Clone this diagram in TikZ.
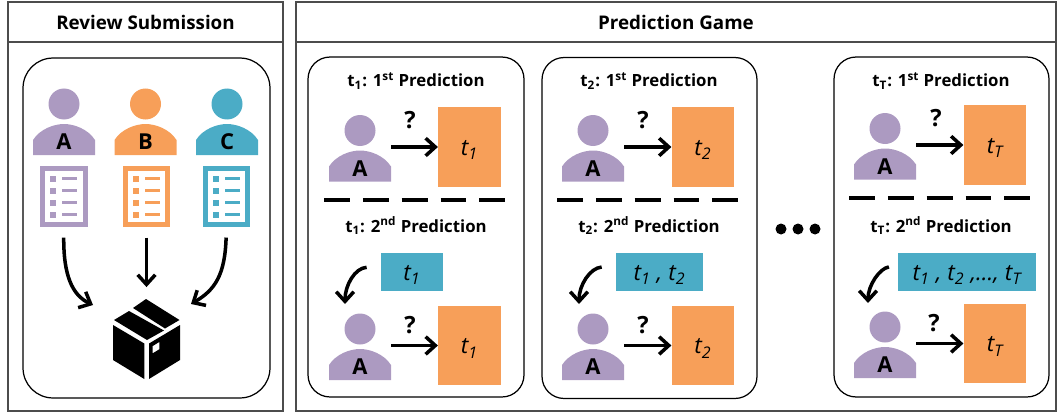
\documentclass[tikz,border=0pt]{standalone}
\usepackage{xcolor}
\usepackage{fontspec}
\usepackage{tikz}
\usetikzlibrary{arrows.meta}
\setmainfont{Open Sans}
\definecolor{revpurple}{HTML}{AC9AC1}
\definecolor{revorange}{HTML}{F79F59}
\definecolor{revblue}{HTML}{4BACC6}
\tikzset{>={Straight Barb[length=5.5pt,width=10pt]}}
\tikzset{arr/.style={->, line width=2pt, black}}
\tikzset{panel/.style={rectangle, draw=black!70, line width=0.7pt, inner sep=0}}
\tikzset{card/.style={rectangle, draw=black, line width=0.7pt, inner sep=0}}
\tikzset{predbox/.style={rectangle, fill=revorange, minimum width=1.25cm, minimum height=1.59cm, inner sep=0, text height=12pt, font=\fontsize{13}{15}\selectfont\itshape}}
\tikzset{histbox/.style={rectangle, fill=revblue, minimum height=0.76cm, inner sep=0, text height=12pt, font=\fontsize{13}{15}\selectfont\itshape}}
\tikzset{cardtitle/.style={inner sep=0, font=\fontsize{9.55}{11}\selectfont\bfseries}}
\tikzset{qmark/.style={inner sep=0, font=\fontsize{13.5}{15}\selectfont\bfseries}}
\tikzset{sep/.style={line width=2pt, dash pattern=on 14.74pt off 7.37pt}}
\tikzset{dotnode/.style={circle, fill=black, minimum size=0.22cm, inner sep=0}}
\tikzset{pics/person/.style 2 args={code={
  \fill [#1] (0,0) circle [radius=15.5];
  \fill [#1] (-31,51) -- (-31,36) .. controls (-24,25) and (-10,20) .. (0,20) .. controls (10,20) and (24,25) .. (31,36) -- (31,51) -- cycle;
  \node [inner sep=0, font=\fontsize{12.5}{14}\selectfont\bfseries] (-l) at (0,38) {#2};
  \node [minimum width=1.24cm, minimum height=1.33cm, inner sep=0, outer sep=0] (-p) at (0,16.5) {};
}}}
\tikzset{pics/review/.style={code={
  \node [draw=#1, line width=2.7pt, minimum width=0.854cm, minimum height=1.114cm, inner sep=0, outer sep=0] (-d) at (0,0) {};
  \foreach \y in {-18,-6,6,18} {
    \fill [#1] (-14,\y-3) rectangle (-8,\y+3);
    \fill [#1] (-1.8,\y-1.4) rectangle (13.5,\y+1.4);
  }
}}}
\newcommand{\tsub}[1]{t\textsubscript{#1}}

\begin{document}
\begin{tikzpicture}[x=0.02cm, y=-0.02cm]
\useasboundingbox (0,0) rectangle (1057,412);
% left side
\node [panel, font=\fontsize{10.7}{13}\selectfont\bfseries, minimum width=5.5cm, minimum height=0.8cm] (H1) at (145.5,22) {Review Submission};
\node [panel, minimum width=5.5cm, minimum height=7.38cm] (W1) at (145.5,226.5) {};
\node [card, rounded corners=0.6cm, minimum width=4.94cm, minimum height=6.8cm] (C0) at (146.5,228) {};
\pic (PA) at (64,104) {person={revpurple}{A}};
\pic (PB) at (145.5,104) {person={revorange}{B}};
\pic (PC) at (227,104) {person={revblue}{C}};
\pic (DA) at (63.8,196.7) {review=revpurple};
\pic (DB) at (146.5,196.7) {review=revorange};
\pic (DC) at (226.5,196.7) {review=revblue};
\node [minimum width=1.34cm, minimum height=1.6cm, inner sep=0, outer sep=0] (BX) at (146.5,339) {};
\fill (114,320) -- (129,311) -- (164,330.5) -- (147,340) -- cycle;
\fill (133,308) -- (146,299) -- (179.5,320) -- (165,328.5) -- cycle;
\fill (113,325) -- (144.3,343.5) -- (144.3,379) -- (113,360) -- cycle;
\fill [even odd rule] (149,343.5) -- (180,325) -- (180,360) -- (149,379) -- cycle (152.7,346) -- (159.3,342) -- (159.3,349.3) -- (152.7,353.3) -- cycle;
\coordinate (ENDA) at (93,305);
\coordinate (ENDC) at (191,304);
\draw [arr, shorten <=7.4pt] (DA-d.south) .. controls (63.5,275) and (72,295) .. (ENDA);
\draw [arr, shorten <=7.4pt, shorten >=6.8pt] (DB-d.south) -- (BX.north);
\draw [arr, shorten <=7.4pt] (DC-d.south) .. controls (225,275) and (215,290) .. (ENDC);
% right side
\node [panel, font=\fontsize{10.7}{13}\selectfont\bfseries, minimum width=15.2cm, minimum height=0.8cm] (H2) at (676,22) {Prediction Game};
\node [panel, minimum width=15.2cm, minimum height=7.38cm] (W2) at (676,226.5) {};
% first card
\node [card, rounded corners=0.44cm, minimum width=4.32cm, minimum height=6.8cm] (C1) at (416,227) {};
\node [cardtitle] (T11) at (416,81) {\tsub{1}: 1\textsuperscript{st} Prediction};
\pic (P11) at (360,130.5) {person={revpurple}{A}};
\node [predbox] (O11) at (469.5,147) {\tsub{1}};
\node [qmark] (Q11) at (410,120) {?};
\draw [arr] (P11-p.east) -- (O11.west);
\coordinate (S1a) at (324,200);
\coordinate (S1b) at (507,200);
\draw [sep] (S1a) -- (S1b);
\node [cardtitle] (T12) at (416,226) {\tsub{1}: 2\textsuperscript{nd} Prediction};
\node [histbox, minimum width=1.24cm] (B1) at (412,272) {\tsub{1}};
\coordinate (E1) at (345,304);
\draw [arr, shorten <=8pt] (B1.170) .. controls (355,268) and (345,285) .. (E1);
\pic (P12) at (360,329) {person={revpurple}{A}};
\node [predbox] (O12) at (469.5,345.5) {\tsub{1}};
\node [qmark] (Q12) at (410,325) {?};
\draw [arr] (P12-p.east) -- (O12.west);
% second card
\node [card, rounded corners=0.44cm, minimum width=4.3cm, minimum height=6.82cm] (C2) at (649.5,228) {};
\node [cardtitle] (T21) at (649,81) {\tsub{2}: 1\textsuperscript{st} Prediction};
\pic (P21) at (593,130.5) {person={revpurple}{A}};
\node [predbox] (O21) at (703,147) {\tsub{2}};
\node [qmark] (Q21) at (643,120) {?};
\draw [arr] (P21-p.east) -- (O21.west);
\coordinate (S2a) at (557,200);
\coordinate (S2b) at (740,200);
\draw [sep] (S2a) -- (S2b);
\node [cardtitle] (T22) at (649,226) {\tsub{2}: 2\textsuperscript{nd} Prediction};
\node [histbox, minimum width=1.74cm] (B2) at (659.5,272) {\tsub{1} , \tsub{2}};
\coordinate (E2) at (579,304);
\draw [arr, shorten <=8pt] (B2.172) .. controls (590,268) and (579,285) .. (E2);
\pic (P22) at (593,329) {person={revpurple}{A}};
\node [predbox] (O22) at (703,345.5) {\tsub{2}};
\node [qmark] (Q22) at (643,325) {?};
\draw [arr] (P22-p.east) -- (O22.west);
% dots
\node [dotnode] (G1) at (781,229) {};
\node [dotnode] (G2) at (798,229) {};
\node [dotnode] (G3) at (815,229) {};
% last card
\node [card, rounded corners=0.44cm, minimum width=4.3cm, minimum height=6.8cm] (C3) at (941.5,227) {};
\node [cardtitle] (T31) at (941,81) {\tsub{T}: 1\textsuperscript{st} Prediction};
\pic (P31) at (885,128.5) {person={revpurple}{A}};
\node [predbox] (O31) at (995,145) {\tsub{T}};
\node [qmark] (Q31) at (936,118) {?};
\draw [arr] (P31-p.east) -- (O31.west);
\coordinate (S3a) at (849,198);
\coordinate (S3b) at (1032,198);
\draw [sep] (S3a) -- (S3b);
\node [cardtitle] (T32) at (941,226) {\tsub{T}: 2\textsuperscript{nd} Prediction};
\node [histbox, minimum width=2.76cm] (B3) at (967,272) {\tsub{1} , \tsub{2} ,..., \tsub{T}};
\coordinate (E3) at (868,303);
\draw [arr, shorten <=5pt] (B3.175) .. controls (880,268) and (868,285) .. (E3);
\pic (P32) at (885,327) {person={revpurple}{A}};
\node [predbox] (O32) at (995,343.5) {\tsub{T}};
\node [qmark] (Q32) at (934,323) {?};
\draw [arr] (P32-p.east) -- (O32.west);
\end{tikzpicture}
\end{document}
